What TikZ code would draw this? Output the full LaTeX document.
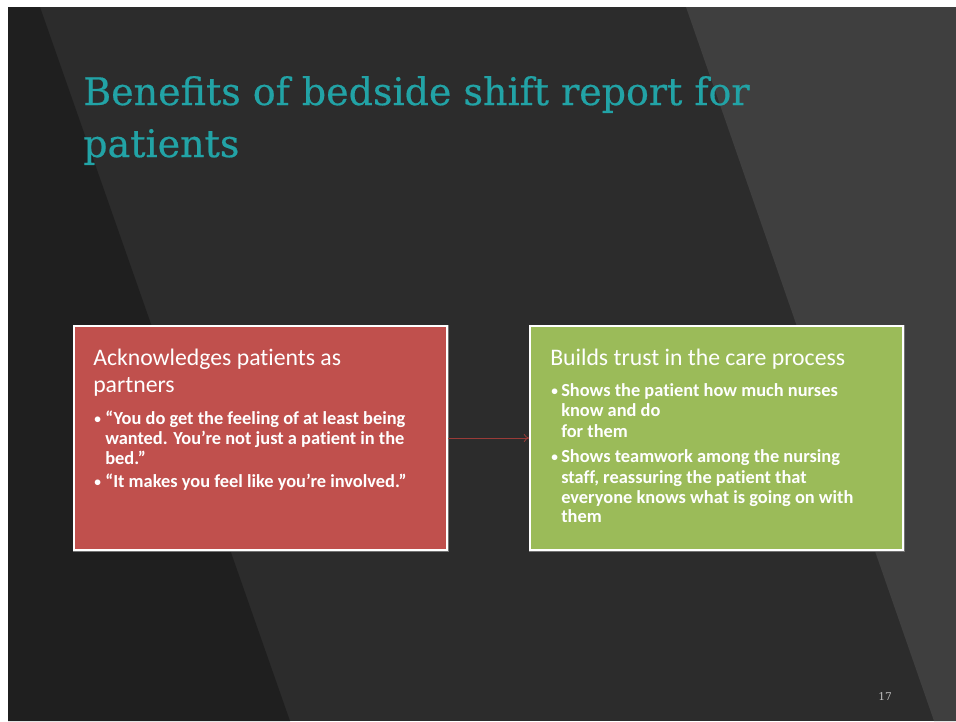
\documentclass[tikz,border=0pt]{standalone}
\usepackage{fontspec}
\usetikzlibrary{arrows.meta}
\setmainfont{Carlito}[Ligatures=NoCommon]
\newfontfamily\titlefont[FakeBold=0.5]{DejaVu Serif}
\newfontfamily\numfont{DejaVu Serif}
\definecolor{stripL}{HTML}{1F1F1F}
\definecolor{stripM}{HTML}{2C2C2C}
\definecolor{stripR}{HTML}{3F3F3F}
\definecolor{titleC}{HTML}{22A3A6}
\definecolor{boxRed}{HTML}{C0504D}
\definecolor{boxGreen}{HTML}{9BBB59}
\definecolor{arrowC}{HTML}{9A3B38}
\begin{document}
\begin{tikzpicture}[x=0.75pt,y=-0.75pt,
  titletext/.style={anchor=base west,inner sep=0pt,text=titleC,font=\titlefont\fontsize{28.5}{34}\selectfont},
  headtext/.style={anchor=base west,inner sep=0pt,text=white,font=\fontsize{17.8}{20}\selectfont},
  bultext/.style={anchor=base west,inner sep=0pt,text=white,font=\bfseries\fontsize{13.8}{15}\selectfont},
  bulmark/.style={anchor=base west,inner sep=0pt,text=white,font=\bfseries\fontsize{10}{12}\selectfont},
  panel/.style={draw=white,line width=1.3pt,minimum width=279.75pt,minimum height=168pt,inner sep=0pt},
  shadowline/.style={draw=black!55,line width=0.6pt}
]
\useasboundingbox (0,0) rectangle (956,721);
\fill[white] (0,0) rectangle (956,721);
% background strips
\fill[stripM] (8,7) rectangle (956,721);
\fill[stripL] (8,7) -- (40,7) -- (290,721) -- (8,721) -- cycle;
\fill[stripR] (686,7) -- (956,7) -- (956,721) -- (934,721) -- cycle;
% title
\node[titletext] (t1) at (83,105) {Benefits of bedside shift report for};
\node[titletext] (t2) at (83,157) {patients};
% panels
\draw[shadowline] (73,325) rectangle (448,551);
\draw[shadowline] (529,325) rectangle (904,551);
\node[panel,fill=boxRed] (ack) at (260.5,438) {};
\node[panel,fill=boxGreen] (trust) at (716.5,438) {};
\draw[arrowC,line width=0.6pt,-{To[length=4pt,width=6pt]}] (ack.east) -- (trust.west);
% red panel text
\node[headtext] (a1) at (93,365) {Acknowledges patients as};
\node[headtext] (a2) at (93,392) {partners};
\node[bulmark] (ab1) at (94,423) {\textbullet};
\node[bultext] (a3) at (105,424) {“You do get the feeling of at least being};
\node[bultext] (a4) at (105,444) {wanted. You’re not just a patient in the};
\node[bultext] (a5) at (105,464) {bed.”};
\node[bulmark] (ab2) at (94,486) {\textbullet};
\node[bultext] (a6) at (105,487) {“It makes you feel like you’re involved.”};
% green panel text
\node[headtext] (g1) at (550,365) {Builds trust in the care process};
\node[bulmark] (gb1) at (551,395) {\textbullet};
\node[bultext] (g2) at (561,396) {Shows the patient how much nurses};
\node[bultext] (g3) at (561,416) {know and do};
\node[bultext] (g4) at (561,437) {for them};
\node[bulmark] (gb2) at (551,461) {\textbullet};
\node[bultext] (g5) at (561,462) {Shows teamwork among the nursing};
\node[bultext] (g6) at (561,483) {staff, reassuring the patient that};
\node[bultext] (g7) at (561,503) {everyone knows what is going on with};
\node[bultext] (g8) at (561,522) {them};
% page number
\node[anchor=base west,inner sep=0pt,text=black!25,font=\numfont\fontsize{8}{10}\selectfont] (pg) at (878,700) {17};
\end{tikzpicture}
\end{document}
